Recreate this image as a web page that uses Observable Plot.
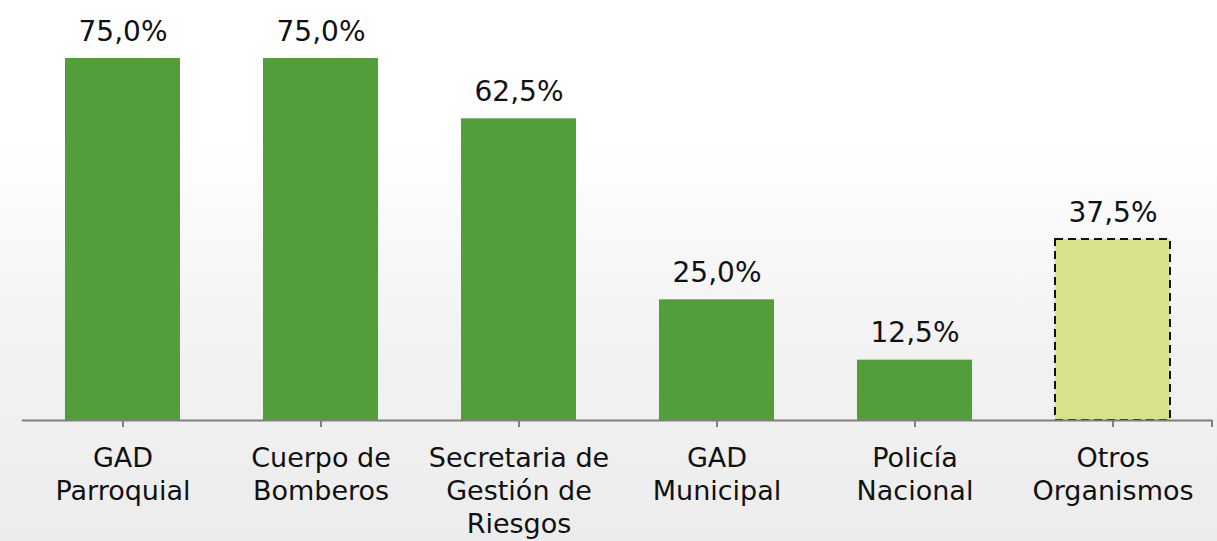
<!DOCTYPE html>
<html>
<head>
<meta charset="utf-8">
<script src="https://cdn.jsdelivr.net/npm/d3@7"></script>
<script src="https://cdn.jsdelivr.net/npm/@observablehq/plot@0.6"></script>
<style>
  html, body { margin: 0; padding: 0; }
  body {
    width: 1217px; height: 541px; overflow: hidden;
    background: linear-gradient(to bottom, #ffffff 0%, #ffffff 25%, #f3f3f3 60%, #ececec 100%);
    font-family: "DejaVu Sans", sans-serif;
  }
  svg { background: transparent !important; display: block; }
</style>
</head>
<body>
<div id="chart"></div>
<script>
const categories = ["GAD\nParroquial", "Cuerpo de\nBomberos", "Secretaria de\nGestión de\nRiesgos", "GAD\nMunicipal", "Policía\nNacional", "Otros\nOrganismos"];
const values = [75.0, 75.0, 62.5, 25.0, 12.5, 37.5];
const valueLabels = ["75,0%", "75,0%", "62,5%", "25,0%", "12,5%", "37,5%"];
const groups = ["main", "main", "main", "main", "main", "otros"];

const data = categories.map((c, i) => ({cat: c, value: values[i], label: valueLabels[i], group: groups[i]}));

const chart = Plot.plot({
  width: 1217,
  height: 541,
  marginLeft: 22,
  marginRight: 5,
  marginTop: 58,
  marginBottom: 121,
  style: {background: "transparent", fontFamily: "DejaVu Sans, sans-serif"},
  x: {domain: categories, paddingInner: 0.42, paddingOuter: 0.21, axis: null},
  y: {domain: [0, 75], axis: null},
  color: {domain: ["main", "otros"], range: ["#529e3a", "#d9e289"]},
  marks: [
    Plot.barY(data.filter(d => d.group === "main"), {x: "cat", y: "value", fill: "group"}),
    Plot.barY(data.filter(d => d.group === "otros"), {x: "cat", y: "value", fill: "group", stroke: "#111", strokeWidth: 2, strokeDasharray: "8,5"}),
    Plot.ruleY([0], {stroke: "#7f7f7f", strokeWidth: 2}),
    Plot.axisX({tickSize: 7, stroke: "#7f7f7f", strokeWidth: 2, fill: "#111", fontSize: 27, lineHeight: 1.22, tickPadding: 16, label: null, tickFormat: d => d}),
    (index, scales, values, dims) => {
      const x = dims.width - dims.marginRight;
      const y = scales.y(0);
      const l = document.createElementNS("http://www.w3.org/2000/svg", "line");
      l.setAttribute("x1", x); l.setAttribute("x2", x);
      l.setAttribute("y1", y); l.setAttribute("y2", y + 7);
      l.setAttribute("stroke", "#7f7f7f"); l.setAttribute("stroke-width", 2);
      return l;
    },
    Plot.text(data, {x: "cat", y: "value", text: "label", dy: -18, lineAnchor: "bottom", fontSize: 28, fill: "#111"})
  ]
});
document.getElementById("chart").append(chart);
</script>
</body>
</html>
